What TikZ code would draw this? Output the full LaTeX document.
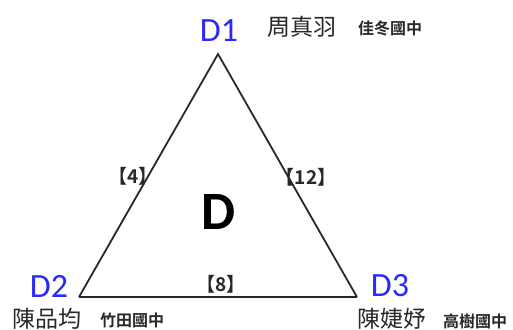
\documentclass[tikz,border=0pt]{standalone}
\usepackage{fontspec}
\setmainfont{Carlito}
\newfontfamily\cjk{Noto Sans CJK TC}[BoldFont={Noto Sans CJK TC Bold}]
\usetikzlibrary{positioning}
\definecolor{vblue}{RGB}{40,40,255}
\definecolor{tgray}{RGB}{40,40,40}
\tikzset{
  vlbl/.style={text=vblue, font=\fontsize{17}{17}\selectfont, inner sep=0pt},
  pname/.style={text=tgray, font=\cjk\fontsize{11.5}{12}\selectfont, inner sep=0pt},
  school/.style={text=tgray, font=\cjk\bfseries\fontsize{8}{8}\selectfont, inner sep=0pt},
  wgt/.style={text=tgray, font=\cjk\bfseries\fontsize{9.5}{10}\selectfont, inner sep=0pt},
  triline/.style={draw=tgray, line width=0.9pt},
}

\begin{document}
\begin{tikzpicture}[x=0.5pt, y=-0.5pt]
\useasboundingbox (0,0) rectangle (513,329);

\coordinate (v1) at (218, 54);
\coordinate (v2) at (79,  297);
\coordinate (v3) at (357, 297);

\draw[triline] (v2) -- (v1) -- (v3);
\draw[triline, line width=1.4pt] (v2) -- (v3);

\node[vlbl] (d1) at (219, 31)  {D1};
\node[vlbl] (d2) at (49,  286) {D2};
\node[vlbl] (d3) at (390, 286) {D3};

\node[pname]  (n1) at (302, 27)  {周真羽};
\node[school] (s1) at (390, 28)  {佳冬國中};
\node[pname]  (n2) at (47,  319) {陳品均};
\node[school] (s2) at (132, 320) {竹田國中};
\node[pname]  (n3) at (392, 319) {陳婕妤};
\node[school] (s3) at (475, 321) {高樹國中};

\node[text=black, font=\bfseries\fontsize{27}{27}\selectfont, inner sep=0pt] (dd) at (219, 212) {D};

\node[wgt] (w12) at (133, 176) {【4】};
\node[wgt] (w13) at (306, 177) {【12】};
\node[wgt] (w23) at (221, 284) {【8】};
\end{tikzpicture}
\end{document}
